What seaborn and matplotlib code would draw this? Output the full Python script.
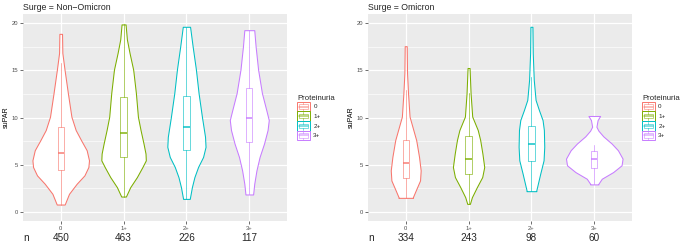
import numpy as np
import matplotlib
matplotlib.use("Agg")
import matplotlib.pyplot as plt
import matplotlib.transforms as mtransforms
from matplotlib.patches import Patch, Rectangle
from matplotlib.lines import Line2D
from matplotlib.legend_handler import HandlerBase
import seaborn as sns

# ---- data ----
categories = ["0", "1+", "2+", "3+"]
palette = ["#F8766D", "#7CAE00", "#00BFC4", "#C77CFF"]
surges = ["Non\u2212Omicron", "Omicron"]

n_nonomicron = [450, 463, 226, 117]
n_omicron = [334, 243, 98, 60]

# box stats: whisker low, q1, median, q3, whisker high
box_nonomicron = {
    "whislo": [0.75, 1.6, 1.35, 1.82],
    "q1": [4.38, 5.81, 6.52, 7.38],
    "med": [6.27, 8.3, 9.02, 9.91],
    "q3": [8.95, 12.2, 12.3, 13.12],
    "whishi": [15.79, 19.89, 19.64, 19.28],
}
box_omicron = {
    "whislo": [1.46, 0.82, 2.17, 2.89],
    "q1": [3.6, 4.03, 5.35, 4.67],
    "med": [5.2, 5.63, 7.17, 5.63],
    "q3": [7.59, 8.0, 9.1, 6.42],
    "whishi": [12.94, 12.58, 14.3, 7.06],
}

# violin outlines: suPAR levels and half widths (category units)
vy_nonomicron = [
    [0.75, 1.89, 2.96, 3.85, 4.74, 5.45, 6.52, 7.6, 8.67, 10.09, 12.59, 15.08, 16.86, 18.89],
    [1.6, 2.6, 3.67, 4.74, 5.45, 6.17, 7.24, 8.67, 10.1, 12.6, 15.08, 16.86, 18.3, 19.89],
    [1.35, 2.6, 3.67, 4.74, 5.81, 6.88, 7.95, 10.1, 12.6, 15.1, 17.6, 19.64],
    [1.82, 2.96, 4.38, 5.81, 7.24, 8.67, 9.73, 10.8, 12.6, 15.1, 17.6, 19.28],
]
vw_nonomicron = [
    [0.063, 0.132, 0.254, 0.377, 0.44, 0.45, 0.413, 0.323, 0.238, 0.17, 0.114, 0.061, 0.026, 0.021],
    [0.037, 0.106, 0.212, 0.30, 0.354, 0.349, 0.317, 0.27, 0.228, 0.196, 0.153, 0.095, 0.053, 0.032],
    [0.053, 0.087, 0.127, 0.185, 0.265, 0.304, 0.296, 0.246, 0.193, 0.151, 0.098, 0.058],
    [0.061, 0.079, 0.114, 0.164, 0.235, 0.291, 0.31, 0.27, 0.201, 0.14, 0.10, 0.079],
]
vy_omicron = [
    [1.46, 1.53, 2.24, 3.31, 4.38, 5.81, 7.59, 10.1, 12.58, 14.72, 17.58],
    [0.82, 1.53, 2.6, 3.67, 4.74, 6.17, 7.6, 8.67, 10.1, 12.58, 15.26],
    [2.17, 2.24, 4.03, 5.45, 6.88, 8.67, 9.73, 10.8, 11.87, 14.01, 16.86, 19.64],
    [2.89, 2.96, 3.49, 4.2, 4.92, 5.63, 6.52, 7.24, 8.0, 8.6, 9.02, 9.73, 10.16],
]
vw_omicron = [
    [0.116, 0.114, 0.159, 0.228, 0.238, 0.212, 0.167, 0.061, 0.037, 0.021, 0.016],
    [0.021, 0.053, 0.132, 0.217, 0.249, 0.22, 0.185, 0.146, 0.058, 0.032, 0.016],
    [0.079, 0.077, 0.14, 0.193, 0.204, 0.198, 0.177, 0.119, 0.066, 0.037, 0.021, 0.016],
    [0.066, 0.066, 0.119, 0.30, 0.434, 0.45, 0.376, 0.275, 0.143, 0.066, 0.034, 0.053, 0.093],
]

panels = [
    (surges[0], n_nonomicron, box_nonomicron, vy_nonomicron, vw_nonomicron),
    (surges[1], n_omicron, box_omicron, vy_omicron, vw_omicron),
]

# ---- style ----
sns.set_theme(style="darkgrid", rc={
    "axes.facecolor": "#EBEBEB",
    "grid.color": "white",
    "axes.edgecolor": "#EBEBEB",
})
plt.rcParams["font.family"] = ["Liberation Sans", "DejaVu Sans"]


class BoxKey(HandlerBase):
    # ggplot-like key: violin outline with a small boxplot inside
    def create_artists(self, legend, orig_handle, xdescent, ydescent,
                       width, height, fontsize, trans):
        col = orig_handle.get_edgecolor()
        x0, y0 = -xdescent, -ydescent
        arts = [Rectangle((x0, y0), width, height, facecolor="white",
                          edgecolor=col, lw=0.7, transform=trans)]
        bw = width * 0.7
        bx = x0 + (width - bw) / 2
        arts.append(Rectangle((bx, y0 + height * 0.28), bw, height * 0.44, fill=False,
                              edgecolor=col, alpha=0.6, lw=0.6, transform=trans))
        arts.append(Line2D([bx, bx + bw], [y0 + height / 2] * 2, color=col,
                           alpha=0.6, lw=1.1, transform=trans))
        cx = x0 + width / 2
        arts.append(Line2D([cx, cx], [y0 + height * 0.08, y0 + height * 0.28],
                           color=col, alpha=0.6, lw=0.6, transform=trans))
        arts.append(Line2D([cx, cx], [y0 + height * 0.72, y0 + height * 0.92],
                           color=col, alpha=0.6, lw=0.6, transform=trans))
        return arts


W, H = 685, 244
fig = plt.figure(figsize=(W / 100, H / 100), dpi=100)
lefts = [23, 368]

for k, (surge, counts, box, vys, vws) in enumerate(panels):
    ax = fig.add_axes([lefts[k] / W, 23 / H, 264 / W, 207 / H])

    for i, col in enumerate(palette):
        y = np.array(vys[i])
        w = np.array(vws[i])
        ax.fill_betweenx(y, i - w, i + w, facecolor="white", edgecolor=col,
                         lw=0.75, zorder=2)
        stats = [{
            "whislo": box["whislo"][i], "q1": box["q1"][i], "med": box["med"][i],
            "q3": box["q3"][i], "whishi": box["whishi"][i], "fliers": [],
        }]
        ax.bxp(stats, positions=[i], widths=0.1, showcaps=False, showfliers=False,
               manage_ticks=False,
               boxprops=dict(color=col, alpha=0.6, lw=0.7),
               whiskerprops=dict(color=col, alpha=0.6, lw=0.7),
               medianprops=dict(color=col, alpha=0.8, lw=1.3),
               zorder=3)

    ax.set_xlim(-0.6, 3.6)
    ax.set_ylim(-1, 21)
    ax.set_xticks(range(len(categories)))
    ax.set_xticklabels(categories)
    ax.set_yticks([0, 5, 10, 15, 20])
    ax.set_yticks([2.5, 7.5, 12.5, 17.5], minor=True)
    ax.grid(True, which="major", color="white", lw=0.9)
    ax.grid(True, which="minor", axis="y", color="white", lw=0.45)
    ax.tick_params(axis="both", which="major", labelsize=4.2, labelcolor="#4D4D4D",
                   length=2, width=0.5, color="#333333", pad=1.5, left=True, bottom=True)
    ax.tick_params(axis="both", which="minor", length=0)
    for s in ax.spines.values():
        s.set_visible(False)

    ax.set_ylabel("suPAR", fontsize=5.0, color="black")
    ax.yaxis.set_label_coords(-0.05, 0.5)
    ax.set_title(f"Surge = {surge}", loc="left", fontsize=6.3, pad=3)

    # counts row under the axis
    tr = mtransforms.blended_transform_factory(ax.transData, ax.transAxes)
    for i, n in enumerate(counts):
        ax.text(i, -0.082, str(n), transform=tr, ha="center", va="center", fontsize=7.2)
    fig.text(lefts[k] / W, 1 - 238 / H, "n", ha="left", va="center", fontsize=7.2)

    handles = [Patch(facecolor="white", edgecolor=c) for c in palette]
    leg = ax.legend(handles, categories, title="Proteinuria", loc="center left",
                    bbox_to_anchor=(1 + 10 / 264, 0.5), frameon=False, fontsize=4.5,
                    title_fontsize=5.6, handlelength=2.0, handleheight=2.0,
                    labelspacing=0.0, handletextpad=0.6, borderaxespad=0,
                    borderpad=0, alignment="left", handler_map={Patch: BoxKey()})

fig.savefig("out.png", dpi=100, facecolor="white")
